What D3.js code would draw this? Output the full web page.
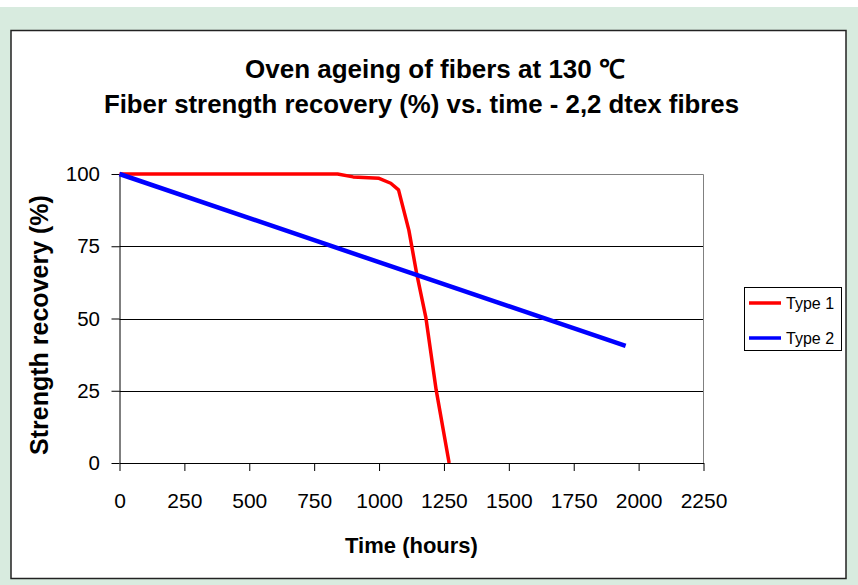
<!DOCTYPE html>
<html>
<head>
<meta charset="utf-8">
<script src="https://cdn.jsdelivr.net/npm/d3@7"></script>
<style>
  body { margin: 0; background: #fff; }
  text { font-family: Arial, "Liberation Sans", sans-serif; fill: #000; }
  .axis path, .axis line { stroke: #000; }
</style>
</head>
<body>
<svg id="chart" width="858" height="585"></svg>
<script>
const type1Hours = [0, 840, 900, 1000, 1045, 1075, 1115, 1145, 1180, 1220, 1270];
const type1Values = [100, 100, 99, 98.5, 96.8, 94.5, 80.5, 65.5, 50.5, 25.3, 0];
const type2Hours = [0, 1950];
const type2Values = [100, 40.5];
const xTicks = [0, 250, 500, 750, 1000, 1250, 1500, 1750, 2000, 2250];
const yTicks = [0, 25, 50, 75, 100];
const seriesNames = ["Type 1", "Type 2"];
const seriesColors = ["#ff0000", "#0000ff"];

const plot = { left: 119.5, right: 703.5, top: 174, bottom: 463 };

const svg = d3.select("#chart");

// frame and background
svg.append("rect").attr("x", 0).attr("y", 7).attr("width", 858).attr("height", 578)
  .attr("fill", "#d8ebdf");
svg.append("rect").attr("x", 11).attr("y", 30.5).attr("width", 835).attr("height", 548)
  .attr("fill", "#fff").attr("stroke", "#222").attr("stroke-width", 1.5);

const x = d3.scaleLinear().domain([0, 2250]).range([plot.left, plot.right]);
const y = d3.scaleLinear().domain([0, 100]).range([plot.bottom, plot.top]);

// gridlines
svg.append("g")
  .selectAll("line")
  .data(yTicks.filter(t => t > 0 && t < 100))
  .enter()
  .append("line")
  .attr("x1", plot.left).attr("x2", plot.right)
  .attr("y1", d => Math.round(y(d)) + 0.5).attr("y2", d => Math.round(y(d)) + 0.5)
  .attr("stroke", "#000").attr("stroke-width", 1);

// plot area border (top, right)
svg.append("path")
  .attr("d", `M${plot.left},${plot.top + 0.5}H${plot.right}V${plot.bottom}`)
  .attr("fill", "none").attr("stroke", "#808080").attr("stroke-width", 1);

const xAxis = d3.axisBottom(x).tickValues(xTicks).tickFormat(d3.format("d"))
  .tickSize(8).tickPadding(22).tickSizeOuter(0);
const gx = svg.append("g").attr("class", "x axis")
  .attr("transform", `translate(0,${plot.bottom})`)
  .call(xAxis);
gx.select(".domain").attr("stroke", "#444");
gx.selectAll(".tick line").attr("stroke", "#444");
gx.selectAll("text").attr("font-size", 21).style("font-family", "Arial, 'Liberation Sans', sans-serif");

const yAxis = d3.axisLeft(y).tickValues(yTicks).tickFormat(d3.format("d"))
  .tickSize(8).tickPadding(11.5).tickSizeOuter(0);
const gy = svg.append("g").attr("class", "y axis")
  .attr("transform", `translate(${plot.left},0)`)
  .call(yAxis);
gy.selectAll("text").attr("font-size", 20.5).style("font-family", "Arial, 'Liberation Sans', sans-serif");

// series
const line = d3.line().x(d => x(d[0])).y(d => y(d[1]));
const type1 = type1Hours.map((h, i) => [h, type1Values[i]]);
const type2 = type2Hours.map((h, i) => [h, type2Values[i]]);

svg.append("path").attr("d", line(type1))
  .attr("fill", "none").attr("stroke", seriesColors[0]).attr("stroke-width", 3.5)
  .attr("stroke-linejoin", "round");
svg.append("path").attr("d", line(type2))
  .attr("fill", "none").attr("stroke", seriesColors[1]).attr("stroke-width", 4.5);

// titles
svg.append("text").attr("x", 435).attr("y", 78).attr("text-anchor", "middle")
  .attr("font-size", 26).attr("font-weight", "bold")
  .text("Oven ageing of fibers at 130 ℃");
svg.append("text").attr("x", 421.5).attr("y", 113).attr("text-anchor", "middle")
  .attr("font-size", 25.8).attr("font-weight", "bold")
  .text("Fiber strength recovery (%) vs. time - 2,2 dtex fibres");

svg.append("text").attr("x", (plot.left + plot.right) / 2).attr("y", 553)
  .attr("text-anchor", "middle").attr("font-size", 22).attr("font-weight", "bold")
  .text("Time (hours)");

svg.append("text")
  .attr("transform", `translate(48,325) rotate(-90)`)
  .attr("text-anchor", "middle").attr("font-size", 25).attr("font-weight", "bold")
  .text("Strength recovery (%)");

// legend
const legend = svg.append("g");
legend.append("rect").attr("x", 744.5).attr("y", 287.5).attr("width", 97).attr("height", 63)
  .attr("fill", "#fff").attr("stroke", "#000").attr("stroke-width", 1);
const items = legend.selectAll("g.item")
  .data(seriesNames)
  .enter()
  .append("g")
  .attr("transform", (d, i) => `translate(749,${303 + i * 35})`);
items.append("line").attr("x1", 0).attr("x2", 32).attr("y1", 0).attr("y2", 0)
  .attr("stroke", (d, i) => seriesColors[i]).attr("stroke-width", 3.5);
items.append("text").attr("x", 37).attr("y", 6).attr("font-size", 16).text(d => d);
</script>
</body>
</html>
